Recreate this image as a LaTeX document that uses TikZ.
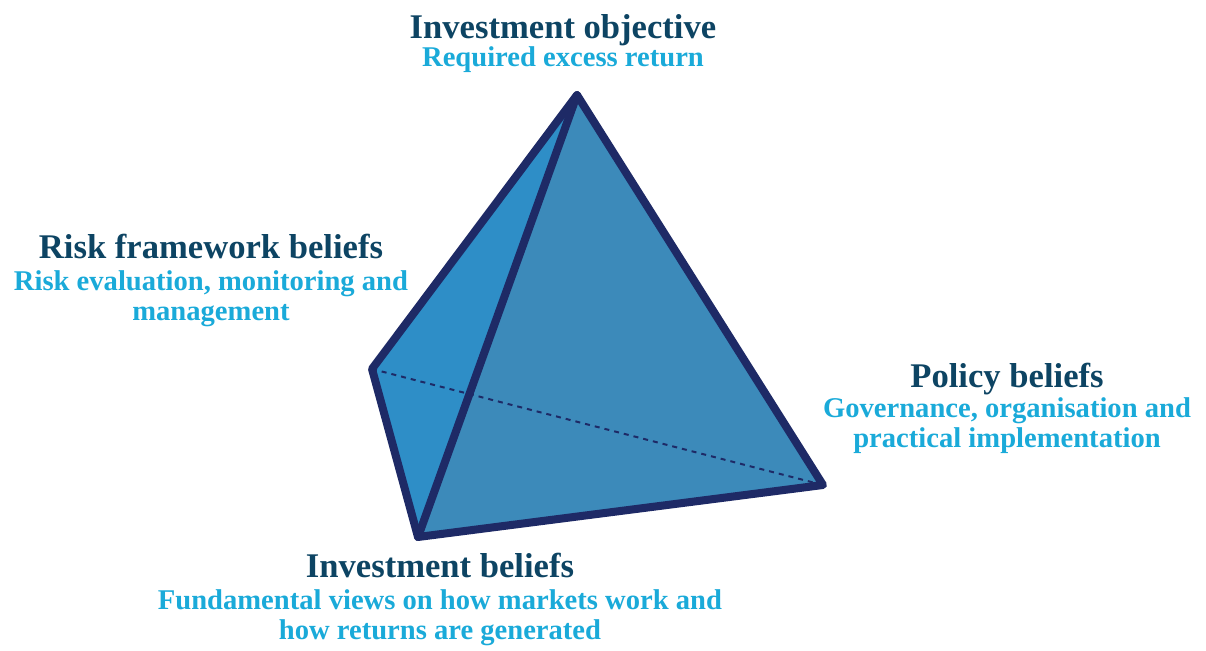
\documentclass[tikz,border=0pt]{standalone}
\usepackage{fontspec}
\setmainfont{Liberation Serif}
\usetikzlibrary{positioning}
\definecolor{edgecol}{HTML}{1E2A66}
\definecolor{leftcol}{HTML}{2E8EC7}
\definecolor{frontcol}{HTML}{3C8ABA}
\definecolor{headcol}{HTML}{0D4463}
\definecolor{subcol}{HTML}{1AAAD9}

\begin{document}
\begin{tikzpicture}[x=0.5pt,y=-0.5pt,
  head/.style = {font=\bfseries\fontsize{17.3}{18}\selectfont,text=headcol,
        inner sep=0pt,anchor=base},
  sub/.style = {font=\bfseries\fontsize{14.3}{15}\selectfont,text=subcol,
        inner sep=0pt,align=center},
  rim/.style = {draw=edgecol,line width=4pt,line join=round,line cap=round},
  hidden/.style = {draw=edgecol,line width=1pt,dash pattern=on 2.5pt off 2.5pt}
]
 \useasboundingbox (0,0) rectangle (1206,651);
 % corners of the tetrahedron
 \coordinate (apex) at (577,95);
 \coordinate (lft)  at (372,369);
 \coordinate (btm)  at (418,537);
 \coordinate (rgt)  at (823,485);
 % faces
 \fill[leftcol]  (apex) -- (lft) -- (btm) -- cycle;
 \fill[frontcol] (apex) -- (btm) -- (rgt) -- cycle;
 \draw[hidden] (lft) -- (rgt);
 \draw[rim] (apex) -- (lft) -- (btm) -- (rgt) -- cycle;
 \draw[rim] (apex) -- (btm);
 % labels
 \node[head] (objT) at (563,39) {Investment objective};
 \node[sub, below=14pt of objT.base, anchor=base] (objS) {Required excess return};
 \node[head] (riskT) at (211,259) {Risk framework beliefs};
 \node[sub, below=31pt of riskT.base, anchor=base] (riskS)
   {Risk evaluation, monitoring and\\management};
 \node[head] (polT) at (1007,388) {Policy beliefs};
 \node[sub, below=30pt of polT.base, anchor=base] (polS)
   {Governance, organisation and\\practical implementation};
 \node[head] (invT) at (440,578) {Investment beliefs};
 \node[sub, below=31pt of invT.base, anchor=base] (invS)
   {Fundamental views on how markets work and\\how returns are generated};
\end{tikzpicture}
\end{document}
